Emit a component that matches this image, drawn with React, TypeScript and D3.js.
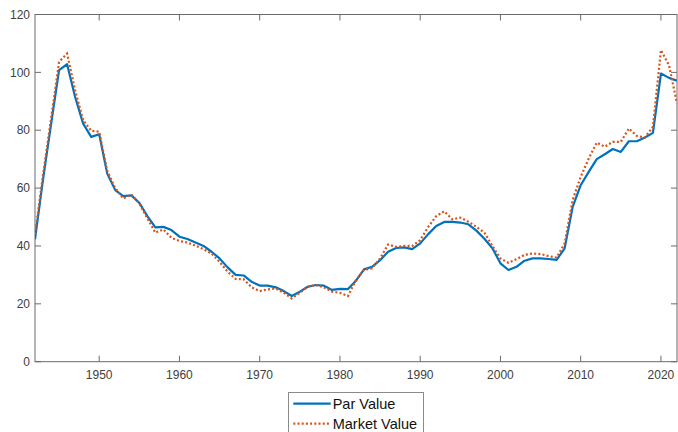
import React, { useEffect, useRef } from 'react';
import * as d3 from 'd3';

const years = d3.range(1942, 2023);

const parValue = [
  42.3, 63, 82, 100.8, 102.8, 91.5, 82.3, 77.7, 78.6, 65,
  59.3, 57.2, 57.5, 54.9, 50.3, 46.4, 46.6, 45.5, 43.2, 42.4,
  41.2, 40, 38, 35.7, 32.6, 30, 29.8, 27.6, 26.3, 26.3,
  25.7, 24.4, 22.7, 24.2, 25.9, 26.5, 26.3, 24.8, 25.2, 25.1,
  28, 31.9, 32.8, 35.1, 38, 39.3, 39.5, 38.9, 40.9, 44.1,
  46.9, 48.3, 48.3, 48.1, 47.5, 45.3, 42.5, 39.2, 34, 31.7,
  32.8, 34.9, 35.7, 35.7, 35.5, 35.2, 39.2, 53.5, 61, 65.6,
  70, 71.7, 73.5, 72.5, 76.2, 76.2, 77.5, 79.1, 99.6, 98.1,
  97.1,
];

const marketValue = [
  44, 64.5, 84, 103.6, 106.5, 93.8, 83.5, 79.8, 79.5, 66,
  60, 56.4, 57.8, 54.7, 49.5, 44.6, 45.7, 42.8, 41.7, 41.2,
  40.1, 38.9, 37.4, 34.5, 31.1, 28.6, 28.5, 25.7, 24.4, 25,
  25.3, 23.8, 21.9, 23.8, 25.9, 26.5, 25.7, 24.2, 23.8, 22.7,
  28.2, 31.7, 32.3, 35.7, 40.5, 39.7, 40, 40, 42, 46.6,
  50.3, 52, 49.2, 49.8, 48.4, 46.6, 44.6, 40, 35.7, 34.2,
  35.4, 36.9, 37.4, 37.2, 36.5, 36, 40.9, 55.9, 63.9, 70.2,
  75.7, 74.3, 76, 76, 80.6, 78, 77.5, 81.2, 107.7, 102.5,
  89.3,
];

const xTicks = [1950, 1960, 1970, 1980, 1990, 2000, 2010, 2020];
const yTicks = [0, 20, 40, 60, 80, 100, 120];

const seriesNames = ['Par Value', 'Market Value'];

const W = 678;
const H = 432;
const FONT = 'Arial, "Liberation Sans", Helvetica, sans-serif';

const App: React.FC = () => {
  const svgRef = useRef<SVGSVGElement>(null);

  useEffect(() => {
    if (!svgRef.current) return;
    const svg = d3.select(svgRef.current);
    svg.selectAll('*').remove();

    const left = 35;
    const right = 677;
    const top = 14.5;
    const bottom = 361.7;

    const x = d3.scaleLinear().domain([1942, 2022]).range([left, right]);
    const y = d3.scaleLinear().domain([0, 120]).range([bottom, top]);

    const axisColor = '#6b6b6b';
    const labelColor = '#404040';
    const tickLen = 6;

    const clip = svg.append('clipPath').attr('id', 'plot-clip');
    clip.append('rect').attr('x', left).attr('y', top).attr('width', right - left).attr('height', bottom - top);

    // box + inward ticks
    const frame = svg.append('g');
    frame
      .append('rect')
      .attr('x', left)
      .attr('y', top)
      .attr('width', right - left)
      .attr('height', bottom - top)
      .attr('fill', 'none')
      .attr('stroke', axisColor)
      .attr('stroke-width', 1);

    xTicks.forEach((t) => {
      const px = x(t);
      frame.append('line').attr('x1', px).attr('x2', px).attr('y1', bottom).attr('y2', bottom - tickLen).attr('stroke', axisColor);
      frame.append('line').attr('x1', px).attr('x2', px).attr('y1', top).attr('y2', top + tickLen).attr('stroke', axisColor);
      frame
        .append('text')
        .attr('x', px)
        .attr('y', bottom + 17.5)
        .attr('text-anchor', 'middle')
        .attr('font-family', FONT)
        .attr('font-size', '12px')
        .attr('fill', labelColor)
        .text(t);
    });

    yTicks.forEach((t) => {
      const py = y(t);
      frame.append('line').attr('x1', left).attr('x2', left + tickLen).attr('y1', py).attr('y2', py).attr('stroke', axisColor);
      frame.append('line').attr('x1', right).attr('x2', right - tickLen).attr('y1', py).attr('y2', py).attr('stroke', axisColor);
      frame
        .append('text')
        .attr('x', left - 5)
        .attr('y', py)
        .attr('dy', '0.35em')
        .attr('text-anchor', 'end')
        .attr('font-family', FONT)
        .attr('font-size', '12px')
        .attr('fill', labelColor)
        .text(t);
    });

    const line = d3
      .line<number>()
      .x((_, i) => x(years[i]))
      .y((d) => y(d));

    const plot = svg.append('g').attr('clip-path', 'url(#plot-clip)');

    plot
      .append('path')
      .attr('d', line(parValue))
      .attr('fill', 'none')
      .attr('stroke', '#0072BD')
      .attr('stroke-width', 2.2)
      .attr('stroke-linejoin', 'round');

    plot
      .append('path')
      .attr('d', line(marketValue))
      .attr('fill', 'none')
      .attr('stroke', '#D95319')
      .attr('stroke-width', 2.2)
      .attr('stroke-dasharray', '2,2.2');

    // legend
    const lg = svg.append('g');
    lg.append('rect')
      .attr('x', 288.5)
      .attr('y', 392.5)
      .attr('width', 135)
      .attr('height', 44)
      .attr('fill', '#fff')
      .attr('stroke', '#8a8a8a')
      .attr('stroke-width', 1);

    const rows = [
      { name: seriesNames[0], color: '#0072BD', dash: null, yy: 403.7 },
      { name: seriesNames[1], color: '#D95319', dash: '2,2.2', yy: 423.7 },
    ];
    rows.forEach((r) => {
      const l = lg
        .append('line')
        .attr('x1', 293.3)
        .attr('x2', 330.7)
        .attr('y1', r.yy)
        .attr('y2', r.yy)
        .attr('stroke', r.color)
        .attr('stroke-width', 2.2);
      if (r.dash) l.attr('stroke-dasharray', r.dash);
      lg.append('text')
        .attr('x', 332.7)
        .attr('y', r.yy)
        .attr('dy', '0.36em')
        .attr('font-family', FONT)
        .attr('font-size', '14.5px')
        .attr('fill', '#111')
        .text(r.name);
    });
  }, []);

  return (
    <svg
      ref={svgRef}
      width={W}
      height={H}
      style={{ position: 'absolute', left: 0, top: 0, background: '#fff' }}
    />
  );
};

export default App;
